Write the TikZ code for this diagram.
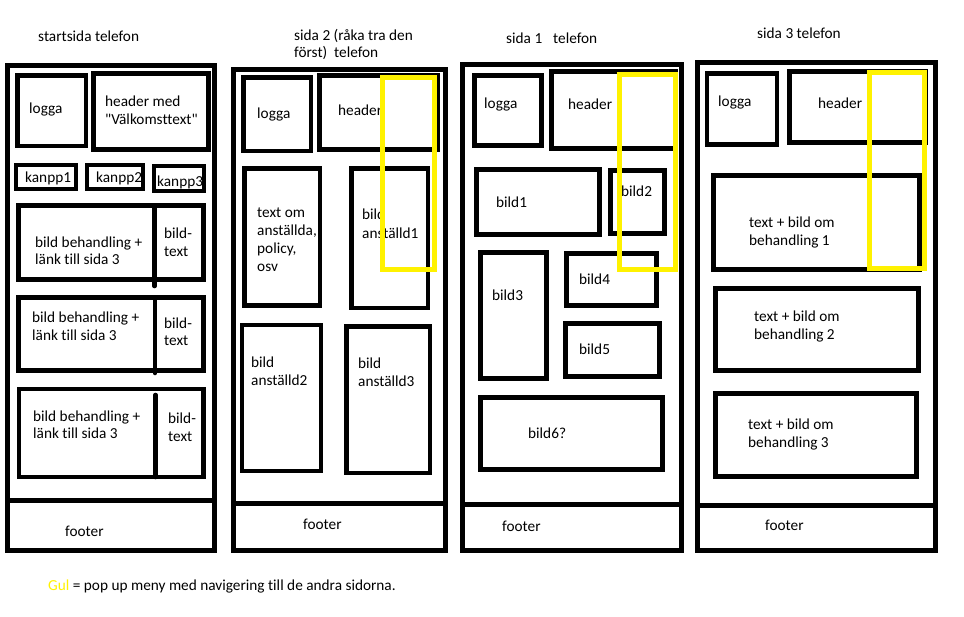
\documentclass[tikz,border=0pt]{standalone}
\usepackage{fontspec}
\setmainfont{Carlito}[Ligatures={TeXOff,CommonOff}]
\definecolor{gul}{RGB}{255,242,0}
\begin{document}
\begin{tikzpicture}[x=1pt,y=-1pt,
  box/.style={draw=black,line width=4.6pt,line join=miter},
  frame/.style={draw=black,line width=5pt,line join=miter},
  divider/.style={draw=black,line width=4.6pt,line cap=round},
  pop/.style={draw=gul,line width=5pt,line join=miter},
  lbl/.style={anchor=west,inner sep=0pt,text height=10.5pt,text depth=0pt,font=\fontsize{15.3}{18}\selectfont}]
\useasboundingbox (0,0) rectangle (964,616);
\fill[white] (0,0) rectangle (964,616);

% ---------- Panel 1: startsida ----------
\node[lbl] (t1) at (38,36) {startsida telefon};
\draw[frame] (7.5,65.5) rectangle (214,550);
\draw[frame] (7.5,500) -- (214,500);
\draw[box] (17.5,75.5) rectangle (86,146);
\node[lbl] (p1logga) at (29,108) {logga};
\draw[box] (93.5,73.5) rectangle (208.5,149.5);
\node[lbl] (p1h1) at (105,101) {header med};
\node[lbl] (p1h2) at (105,119) {"Välkomsttext"};
\draw[box] (16,165) rectangle (76,189);
\node[lbl] (k1) at (25,177) {kanpp1};
\draw[box] (87,165) rectangle (143,189);
\node[lbl] (k2) at (96,177) {kanpp2};
\draw[box] (154,166) rectangle (204,191);
\node[lbl] (k3) at (157,181) {kanpp3};
% bild 1
\draw[box] (18.5,205.5) rectangle (203.5,279.5);
\draw[divider] (154.5,205.5) -- (154.5,286);
\node[lbl] (b1a) at (35,242) {bild behandling +};
\node[lbl] (b1b) at (35,259) {länk till sida 3};
\node[lbl] (b1c) at (164,233) {bild-};
\node[lbl] (b1d) at (164,251) {text};
% bild 2
\draw[box] (18.5,297.5) rectangle (203.5,370.5);
\draw[divider] (155,297.5) -- (155,373);
\node[lbl] (b2a) at (32,317) {bild behandling +};
\node[lbl] (b2b) at (32,335) {länk till sida 3};
\node[lbl] (b2c) at (164,323) {bild-};
\node[lbl] (b2d) at (164,340) {text};
% bild 3
\draw[box] (19,389) rectangle (203.5,477);
\draw[divider] (155.5,395) -- (155.5,477);
\node[lbl] (b3a) at (33,416) {bild behandling +};
\node[lbl] (b3b) at (33,433) {länk till sida 3};
\node[lbl] (b3c) at (168,418) {bild-};
\node[lbl] (b3d) at (168,436) {text};
\node[lbl] (f1) at (65,531) {footer};

% ---------- Panel 2: sida 2 ----------
\node[lbl] (t2a) at (294,35) {sida 2 (råka tra den};
\node[lbl] (t2b) at (294,52) {först)\ \ telefon};
\draw[frame] (233,69) rectangle (445,550);
\draw[frame] (233,503) -- (445,503);
\draw[box] (243.5,77.5) rectangle (311,151);
\node[lbl] (p2logga) at (257,113) {logga};
\draw[box] (319.5,75.5) rectangle (438,149.5);
\node[lbl] (p2h) at (338,110) {header};
\draw[box] (244.5,168.5) rectangle (320,305.5);
\node[lbl] (to1) at (257,212) {text om};
\node[lbl] (to2) at (257,230) {anställda,};
\node[lbl] (to3) at (257,248) {policy,};
\node[lbl] (to4) at (257,266) {osv};
\draw[box] (351.5,168.5) rectangle (428,308);
\node[lbl] (a1a) at (362,214) {bild};
\node[lbl] (a1b) at (362,233) {anställd1};
\draw[box] (242,325) rectangle (321,471);
\node[lbl] (a2a) at (251,362) {bild};
\node[lbl] (a2b) at (251,380) {anställd2};
\draw[box] (346.5,326.5) rectangle (430,473);
\node[lbl] (a3a) at (358,363) {bild};
\node[lbl] (a3b) at (358,381) {anställd3};
\node[lbl] (f2) at (303,524) {footer};
\draw[pop] (382.5,77.5) rectangle (434.5,269.5);

% ---------- Panel 3: sida 1 ----------
\node[lbl] (t3a) at (506,38) {sida 1};
\node[lbl] (t3b) at (553,38) {telefon};
\draw[frame] (462.5,64.5) rectangle (681.5,550.5);
\draw[frame] (462.5,504.5) -- (681.5,504.5);
\draw[box] (474.5,75.5) rectangle (541.5,145.5);
\node[lbl] (p3logga) at (484,103) {logga};
\draw[box] (551.5,71.5) rectangle (676,148.5);
\node[lbl] (p3h) at (568,104) {header};
\draw[box] (476.5,169.5) rectangle (599.5,234.5);
\node[lbl] (s1) at (496,202) {bild1};
\draw[box] (610.5,170.5) rectangle (664.5,233.5);
\node[lbl] (s2) at (621,191) {bild2};
\draw[box] (480.5,252.5) rectangle (546.5,378.5);
\node[lbl] (s3) at (492,295) {bild3};
\draw[box] (566.5,253.5) rectangle (656.5,305.5);
\node[lbl] (s4) at (579,279) {bild4};
\draw[box] (565.5,323.5) rectangle (659.5,376.5);
\node[lbl] (s5) at (579,349) {bild5};
\draw[box] (480.5,397.5) rectangle (662.5,469.5);
\node[lbl] (s6) at (528,433) {bild6?};
\node[lbl] (f3) at (502,526) {footer};
\draw[pop] (619.5,74.5) rectangle (675.5,269.5);

% ---------- Panel 4: sida 3 ----------
\node[lbl] (t4) at (757,33) {sida 3 telefon};
\draw[frame] (697.5,62.5) rectangle (935.5,550.5);
\draw[frame] (697.5,505.5) -- (935.5,505.5);
\draw[box] (707,73.5) rectangle (777,144.5);
\node[lbl] (p4logga) at (718,101) {logga};
\draw[box] (789.5,71.5) rectangle (925.5,142.5);
\node[lbl] (p4h) at (818,103) {header};
\draw[box] (713.5,175.5) rectangle (919.5,269.5);
\node[lbl] (r1a) at (749,222) {text + bild om};
\node[lbl] (r1b) at (749,240) {behandling 1};
\draw[box] (715.5,288.5) rectangle (918.5,370.5);
\node[lbl] (r2a) at (754,316) {text + bild om};
\node[lbl] (r2b) at (754,334) {behandling 2};
\draw[box] (715.5,393.5) rectangle (916.5,476.5);
\node[lbl] (r3a) at (748,424) {text + bild om};
\node[lbl] (r3b) at (748,442) {behandling 3};
\node[lbl] (f4) at (765,525) {footer};
\draw[pop] (869.5,72.5) rectangle (924.5,268.5);

% ---------- legend ----------
\node[lbl] (legend) at (48,585) {\textcolor{gul}{Gul} = pop up meny med navigering till de andra sidorna.};
\end{tikzpicture}
\end{document}
